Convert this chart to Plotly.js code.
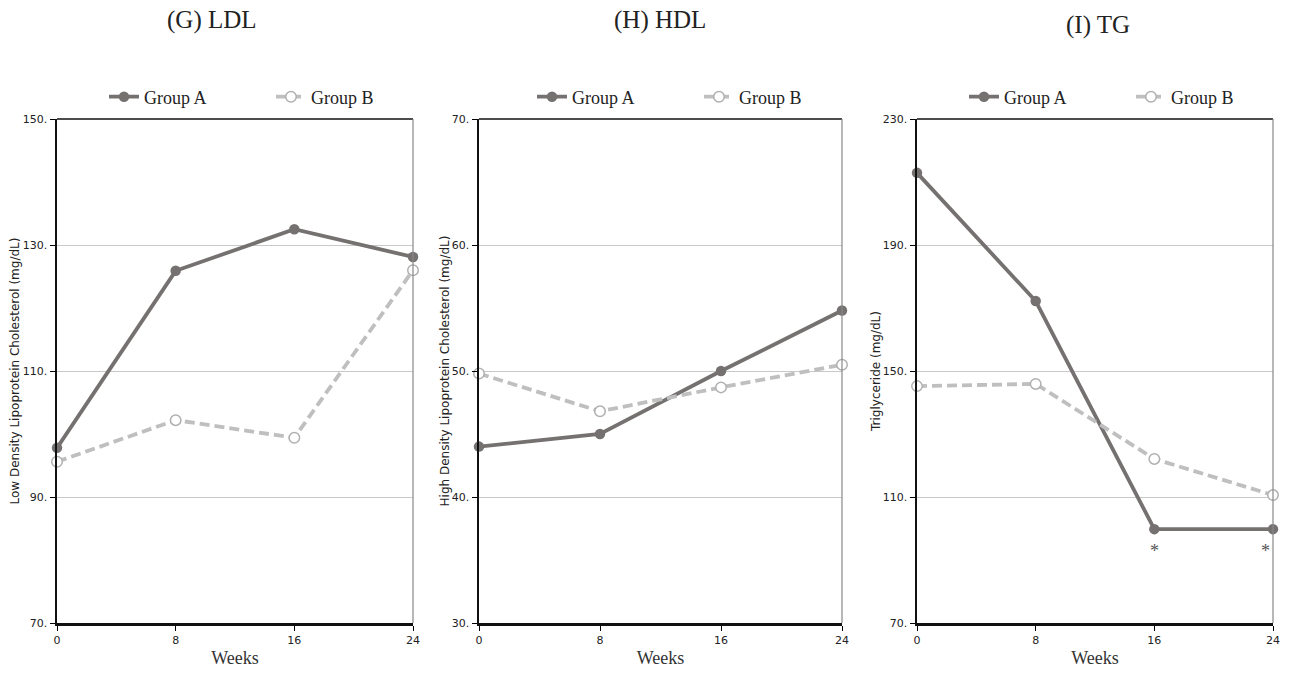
<!DOCTYPE html>
<html>
<head>
<meta charset="utf-8">
<script src="https://cdn.plot.ly/plotly-3.0.1.min.js"></script>
<style>
html,body{margin:0;padding:0;background:#fff;overflow:hidden;width:1289px;height:673px}
#chart{position:absolute;left:0;top:0;width:1289px;height:673px;overflow:hidden}
</style>
</head>
<body>
<div id="chart"></div>
<script>
const weeks = [0, 8, 16, 24];
const weekTicks = ["0", "8", "16", "24"];

const ldlA = [97.8, 125.9, 132.5, 128.1];
const ldlB = [95.6, 102.2, 99.4, 126.0];
const hdlA = [44.0, 45.0, 50.0, 54.8];
const hdlB = [49.8, 46.8, 48.7, 50.5];
const tgA = [212.9, 172.2, 99.8, 99.8];
const tgB = [145.2, 145.9, 122.1, 110.6];

const ldlTicks = [70, 90, 110, 130, 150];
const hdlTicks = [30, 40, 50, 60, 70];
const tgTicks = [70, 110, 150, 190, 230];

const groupNames = ["Group A", "Group B"];
const panelTitles = ["(G) LDL", "(H) HDL", "(I) TG"];
const yTitles = ["Low Density Lipoprotein Cholesterol (mg/dL)", "High Density Lipoprotein Cholesterol (mg/dL)", "Triglyceride (mg/dL)"];
const sigWeeks = [16, 24];
const sigLabel = "*";

const colA = "#767171", colB = "#BFBFBF";
const serif = "Liberation Serif, Times New Roman, serif";
const sans = "DejaVu Sans, Liberation Sans, sans-serif";

const W = 1289, H = 673;
const series = [[ldlA, ldlB], [hdlA, hdlB], [tgA, tgB]];
const ticks = [ldlTicks, hdlTicks, tgTicks];
const xDomains = [[57 / W, 413 / W], [479 / W, 842 / W], [917 / W, 1273 / W]];
const yDomain = [50 / H, 554 / H];
const legendStart = [[104, 271], [532, 699], [964, 1131]];
const titleX = [212, 660, 1098];
const titleY = [20, 20, 25];
const yStandoff = [1, 0, 0];

const traces = [];
const layout = {
  width: W, height: H,
  margin: {l: 0, r: 0, t: 0, b: 0},
  paper_bgcolor: "#fff", plot_bgcolor: "#fff",
  showlegend: true,
  annotations: [], shapes: []
};

let legIdx = 0;
for (let i = 0; i < 3; i++) {
  const s = i === 0 ? "" : String(i + 1);
  for (let g = 0; g < 2; g++) {
    legIdx++;
    const legName = legIdx === 1 ? "legend" : "legend" + legIdx;
    const isA = g === 0;
    traces.push({
      x: weeks, y: series[i][g], xaxis: "x" + s, yaxis: "y" + s,
      type: "scatter", mode: "lines+markers", name: groupNames[g], legend: legName,
      line: isA ? {color: colA, width: 3.8} : {color: colB, width: 3.8, dash: "10px,5px"},
      marker: isA ? {color: colA, size: 10.5, symbol: "circle"}
                  : {color: "#fff", size: 10.5, symbol: "circle", line: {color: "#B0B0B0", width: 1.5}},
      cliponaxis: false
    });
    layout[legName] = {
      x: legendStart[i][g] / W, xanchor: "left", y: 1 - 97 / H, yanchor: "middle",
      font: {family: serif, size: 18, color: "#222"}, bgcolor: "rgba(0,0,0,0)",
      itemwidth: 30, borderwidth: 0
    };
  }
  const t = ticks[i];
  layout["xaxis" + s] = {
    domain: xDomains[i], anchor: "y" + s, range: [0, 24], automargin: false,
    tickmode: "array", tickvals: weeks, ticktext: weekTicks,
    ticks: "outside", ticklen: 5, tickcolor: "#000", tickwidth: 1,
    showline: true, linecolor: "#111", linewidth: 2.5, showgrid: false, zeroline: false,
    tickfont: {family: sans, size: 11, color: "#222"},
    title: {text: "Weeks", font: {family: serif, size: 18, color: "#333"}, standoff: 6},
    fixedrange: true
  };
  layout["yaxis" + s] = {
    domain: yDomain, anchor: "x" + s, range: [t[0], t[t.length - 1]], automargin: false,
    tickmode: "array", tickvals: t, ticktext: t.map(v => v + "."),
    ticks: "outside", ticklen: 5, tickcolor: "#000", tickwidth: 1,
    showline: true, linecolor: "#111", linewidth: 2.5,
    showgrid: true, gridcolor: "#c8c8c8", gridwidth: 1, zeroline: false,
    tickfont: {family: sans, size: 11, color: "#222"},
    title: {text: yTitles[i], font: {family: sans, size: 12, color: "#222"}, standoff: yStandoff[i]},
    fixedrange: true
  };
  layout.annotations.push({
    xref: "paper", yref: "paper", x: titleX[i] / W, y: 1 - titleY[i] / H,
    xanchor: "center", yanchor: "middle", showarrow: false,
    text: panelTitles[i], font: {family: serif, size: 25, color: "#222"}
  });
  layout.shapes.push({type: "line", xref: "x" + s + " domain", yref: "y" + s + " domain",
    x0: 0, x1: 1, y0: 1, y1: 1, line: {color: "#111", width: 1.5}});
  layout.shapes.push({type: "line", xref: "x" + s + " domain", yref: "y" + s + " domain",
    x0: 1, x1: 1, y0: 0, y1: 1, line: {color: "#888", width: 1.2}});
}

sigWeeks.forEach((w, k) => {
  const idx = weeks.indexOf(w);
  layout.annotations.push({
    xref: "x3", yref: "y3", x: w, y: tgA[idx], yshift: -22, xshift: k === 1 ? -8 : 0,
    showarrow: false, text: sigLabel, font: {family: serif, size: 18, color: "#555"}
  });
});

Plotly.newPlot("chart", traces, layout, {displayModeBar: false, staticPlot: true});
</script>
</body>
</html>
